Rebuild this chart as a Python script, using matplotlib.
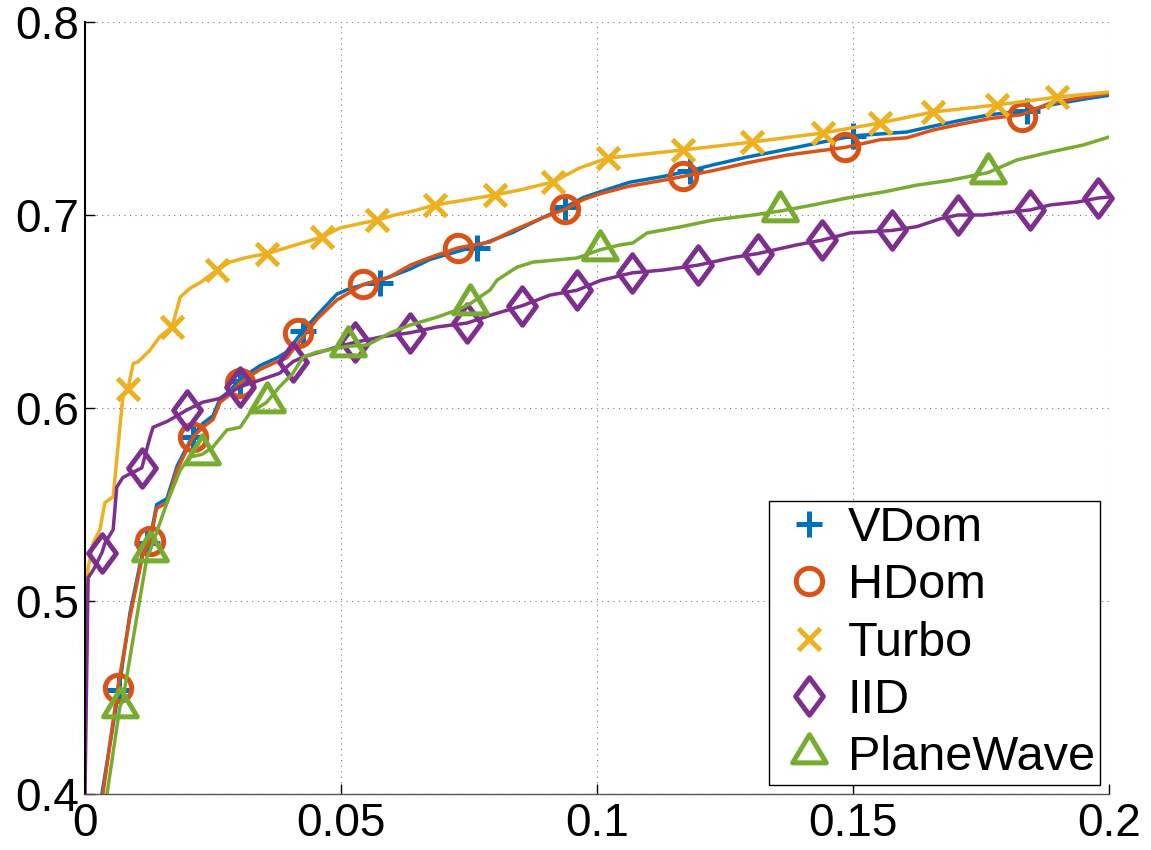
import numpy as np
import matplotlib
matplotlib.use('Agg')
import matplotlib.pyplot as plt
from matplotlib.path import Path

plt.rcParams['font.family'] = ['Liberation Sans', 'DejaVu Sans']

# ---- data ----
vdom_x = [0.0033, 0.0066, 0.0088, 0.0113, 0.0127, 0.014, 0.016, 0.018, 0.0211, 0.023, 0.025, 0.0264, 0.0283,
          0.0303, 0.0342, 0.0375, 0.0394, 0.0426, 0.0453, 0.0492, 0.0518, 0.0576, 0.0635, 0.0674, 0.0766,
          0.0836, 0.0889, 0.0938, 0.0973, 0.1006, 0.1064, 0.113, 0.1182, 0.1227, 0.1293, 0.137, 0.15, 0.1553,
          0.1605, 0.1656, 0.1709, 0.1768, 0.184, 0.1885, 0.195, 0.2]
vdom_y = [0.40, 0.454, 0.494, 0.526, 0.532, 0.550, 0.553, 0.570, 0.586, 0.592, 0.596, 0.605, 0.609,
          0.615, 0.622, 0.626, 0.629, 0.640, 0.648, 0.659, 0.662, 0.666, 0.672, 0.677, 0.684,
          0.691, 0.698, 0.704, 0.709, 0.712, 0.717, 0.720, 0.723, 0.726, 0.730, 0.734, 0.741, 0.742,
          0.743, 0.746, 0.749, 0.752, 0.754, 0.757, 0.760, 0.762]
vdom_mx = [0.0066, 0.0121, 0.0211, 0.0303, 0.0426, 0.0576, 0.0766, 0.0938, 0.1182, 0.15, 0.184]
vdom_my = [0.454, 0.530, 0.585, 0.614, 0.640, 0.665, 0.683, 0.704, 0.723, 0.741, 0.754]

hdom_x = [0.0035, 0.0064, 0.0088, 0.0113, 0.0127, 0.014, 0.016, 0.018, 0.0211, 0.023, 0.025, 0.0264, 0.0283,
          0.0303, 0.0342, 0.0375, 0.0394, 0.0453, 0.0492, 0.0518, 0.0543, 0.0596, 0.0635, 0.0674, 0.0729,
          0.0791, 0.0836, 0.0889, 0.0938, 0.0973, 0.1006, 0.1064, 0.113, 0.1168, 0.1227, 0.1293, 0.137,
          0.1484, 0.1553, 0.1605, 0.1656, 0.1709, 0.1768, 0.183, 0.1885, 0.195, 0.2]
hdom_y = [0.40, 0.455, 0.492, 0.524, 0.531, 0.548, 0.551, 0.568, 0.585, 0.590, 0.594, 0.603, 0.607,
          0.613, 0.620, 0.624, 0.626, 0.646, 0.656, 0.660, 0.664, 0.668, 0.674, 0.678, 0.683,
          0.686, 0.692, 0.698, 0.703, 0.708, 0.711, 0.715, 0.718, 0.720, 0.723, 0.727, 0.731,
          0.735, 0.739, 0.740, 0.744, 0.747, 0.750, 0.752, 0.758, 0.761, 0.763]
hdom_mx = [0.0064, 0.0127, 0.0211, 0.0303, 0.0416, 0.0543, 0.0729, 0.0938, 0.1168, 0.1484, 0.183]
hdom_my = [0.455, 0.531, 0.585, 0.613, 0.639, 0.664, 0.683, 0.703, 0.720, 0.735, 0.751]

turbo_x = [0.0, 0.0006, 0.0016, 0.0029, 0.0039, 0.0055, 0.0074, 0.0084, 0.0094, 0.0104, 0.0127, 0.0146, 0.017,
           0.0186, 0.0205, 0.0225, 0.0258, 0.0283, 0.0316, 0.0355, 0.0463, 0.0498, 0.057, 0.0605, 0.064,
           0.0684, 0.0801, 0.085, 0.0914, 0.0967, 0.1021, 0.1168, 0.1303, 0.1441, 0.1553, 0.1656, 0.1781,
           0.1898, 0.2]
turbo_y = [0.49, 0.517, 0.530, 0.537, 0.551, 0.554, 0.606, 0.610, 0.623, 0.624, 0.630, 0.637, 0.642,
           0.6575, 0.662, 0.665, 0.6715, 0.6756, 0.678, 0.680, 0.6886, 0.6933, 0.6974, 0.700, 0.702,
           0.7052, 0.7104, 0.713, 0.7171, 0.7245, 0.7295, 0.7337, 0.7378, 0.7425, 0.7477, 0.7534, 0.757,
           0.7611, 0.7637]
turbo_mx = [0.0084, 0.017, 0.0258, 0.0355, 0.0463, 0.057, 0.0684, 0.0801, 0.0914, 0.1021, 0.1168, 0.1303,
            0.1441, 0.1553, 0.1656, 0.1781, 0.1898]
turbo_my = [0.610, 0.642, 0.6715, 0.680, 0.6886, 0.6974, 0.7052, 0.7104, 0.7171, 0.7295, 0.7337, 0.7378,
            0.7425, 0.7477, 0.7534, 0.757, 0.7611]

iid_x = [0.0, 0.0006, 0.0016, 0.0033, 0.0039, 0.0055, 0.0062, 0.0074, 0.0111, 0.0127, 0.0133, 0.016, 0.018,
         0.0199, 0.023, 0.0264, 0.0303, 0.0342, 0.038, 0.0406, 0.0426, 0.0453, 0.0492, 0.0527, 0.0582, 0.0635,
         0.0688, 0.0746, 0.0791, 0.0854, 0.0908, 0.0961, 0.1006, 0.1068, 0.1129, 0.1197, 0.1266, 0.1314,
         0.139, 0.144, 0.1494, 0.1576, 0.1625, 0.167, 0.1705, 0.1754, 0.1807, 0.1846, 0.1885, 0.1938,
         0.1979, 0.2]
iid_y = [0.40, 0.512, 0.516, 0.525, 0.530, 0.537, 0.559, 0.564, 0.569, 0.585, 0.590, 0.593, 0.596,
         0.599, 0.603, 0.605, 0.611, 0.6145, 0.618, 0.624, 0.6264, 0.6285, 0.6316, 0.634, 0.637, 0.639,
         0.642, 0.644, 0.648, 0.653, 0.6585, 0.661, 0.666, 0.670, 0.6715, 0.674, 0.678, 0.680,
         0.6845, 0.687, 0.6907, 0.692, 0.694, 0.698, 0.700, 0.700, 0.7016, 0.7026, 0.7052, 0.7067,
         0.7088, 0.7093]
iid_mx = [0.0033, 0.0111, 0.0199, 0.0303, 0.0406, 0.0527, 0.0635, 0.0746, 0.0854, 0.0961, 0.1068, 0.1197,
          0.1314, 0.144, 0.1576, 0.1705, 0.1846, 0.1979]
iid_my = [0.525, 0.569, 0.599, 0.611, 0.624, 0.634, 0.639, 0.644, 0.653, 0.661, 0.670, 0.674,
          0.680, 0.687, 0.692, 0.700, 0.7026, 0.7088]

pw_x = [0.0043, 0.0068, 0.0074, 0.0121, 0.0127, 0.016, 0.0186, 0.0205, 0.0229, 0.025, 0.0277, 0.0303, 0.0322,
        0.0355, 0.038, 0.0406, 0.0426, 0.0453, 0.0514, 0.0551, 0.0596, 0.0635, 0.0688, 0.0727, 0.0752, 0.0791,
        0.0805, 0.0844, 0.0875, 0.0961, 0.1006, 0.1045, 0.107, 0.1098, 0.1162, 0.1227, 0.1305, 0.1357,
        0.1422, 0.1488, 0.1559, 0.1625, 0.169, 0.1764, 0.182, 0.1885, 0.195, 0.2]
pw_y = [0.40, 0.445, 0.449, 0.5228, 0.526, 0.5508, 0.5679, 0.5746, 0.576, 0.5798, 0.5886, 0.590, 0.5974,
        0.603, 0.611, 0.618, 0.6264, 0.629, 0.632, 0.6326, 0.6389, 0.643, 0.6471, 0.6508, 0.654, 0.6611,
        0.6663, 0.673, 0.6756, 0.6777, 0.682, 0.6845, 0.6855, 0.6907, 0.6938, 0.6974, 0.700, 0.702,
        0.7052, 0.7088, 0.7119, 0.7155, 0.718, 0.722, 0.7285, 0.7326, 0.7363, 0.7404]
pw_mx = [0.0068, 0.0127, 0.0229, 0.0355, 0.0514, 0.0752, 0.1006, 0.1357, 0.1764]
pw_my = [0.445, 0.526, 0.576, 0.603, 0.632, 0.654, 0.682, 0.702, 0.722]

labels = ['VDom', 'HDom', 'Turbo', 'IID', 'PlaneWave']
colors = ['#0072BD', '#D95319', '#EDB120', '#7E2F8E', '#77AC30']
x_ticks = [0, 0.05, 0.1, 0.15, 0.2]
x_ticklabels = ['0', '0.05', '0.1', '0.15', '0.2']
y_ticks = [0.4, 0.5, 0.6, 0.7, 0.8]
y_ticklabels = ['0.4', '0.5', '0.6', '0.7', '0.8']

# matlab-ish marker shapes
diamond = Path([(0, 1), (0.74, 0), (0, -1), (-0.74, 0), (0, 1)],
               [Path.MOVETO, Path.LINETO, Path.LINETO, Path.LINETO, Path.CLOSEPOLY])
triangle = Path([(0, 0.667), (-0.6, -0.333), (0.6, -0.333), (0, 0.667)],
                [Path.MOVETO, Path.LINETO, Path.LINETO, Path.CLOSEPOLY])

series = [
    (vdom_x, vdom_y, vdom_mx, vdom_my, '+', 19, 3.6),
    (hdom_x, hdom_y, hdom_mx, hdom_my, 'o', 19, 3.6),
    (turbo_x, turbo_y, turbo_mx, turbo_my, 'x', 16, 3.6),
    (iid_x, iid_y, iid_mx, iid_my, diamond, 27, 3.6),
    (pw_x, pw_y, pw_mx, pw_my, triangle, 27, 3.6),
]

fig = plt.figure(figsize=(11.51, 8.5), dpi=100)
ax = fig.add_axes([85 / 1151, 56 / 850, 1024 / 1151, 772 / 850])

handles = []
for (lx, ly, mx, my, mk, ms, mew), c, lab in zip(series, colors, labels):
    ax.plot(lx, ly, color=c, lw=2.5, solid_joinstyle='round')
    h, = ax.plot(mx, my, linestyle='none', marker=mk, markersize=ms, markeredgewidth=mew,
                 markerfacecolor='none', markeredgecolor=c, label=lab, clip_on=False)
    handles.append(h)

ax.set_xlim(0, 0.2)
ax.set_ylim(0.4, 0.8)
ax.set_xticks(x_ticks)
ax.set_xticklabels(x_ticklabels)
ax.set_yticks(y_ticks)
ax.set_yticklabels(y_ticklabels)
ax.tick_params(direction='in', length=7, width=1, labelsize=33)
ax.tick_params(axis='x', pad=6)
ax.tick_params(axis='y', pad=4)
ax.grid(True, linestyle=(0, (1, 4)), color='#777777', linewidth=0.8)

ax.spines['top'].set_visible(False)
ax.spines['right'].set_visible(False)
ax.spines['left'].set_linewidth(1.5)
ax.spines['bottom'].set_linewidth(1.0)
ax.spines['bottom'].set_color('#555555')

leg = ax.legend(handles=handles, loc='lower right', fontsize=35, frameon=True, fancybox=False,
                edgecolor='black', framealpha=1, borderpad=0.1, handlelength=1.44,
                handletextpad=0.08, labelspacing=0.25, borderaxespad=0.19)
leg.get_frame().set_linewidth(1.0)

fig.savefig('out.png', dpi=100)
